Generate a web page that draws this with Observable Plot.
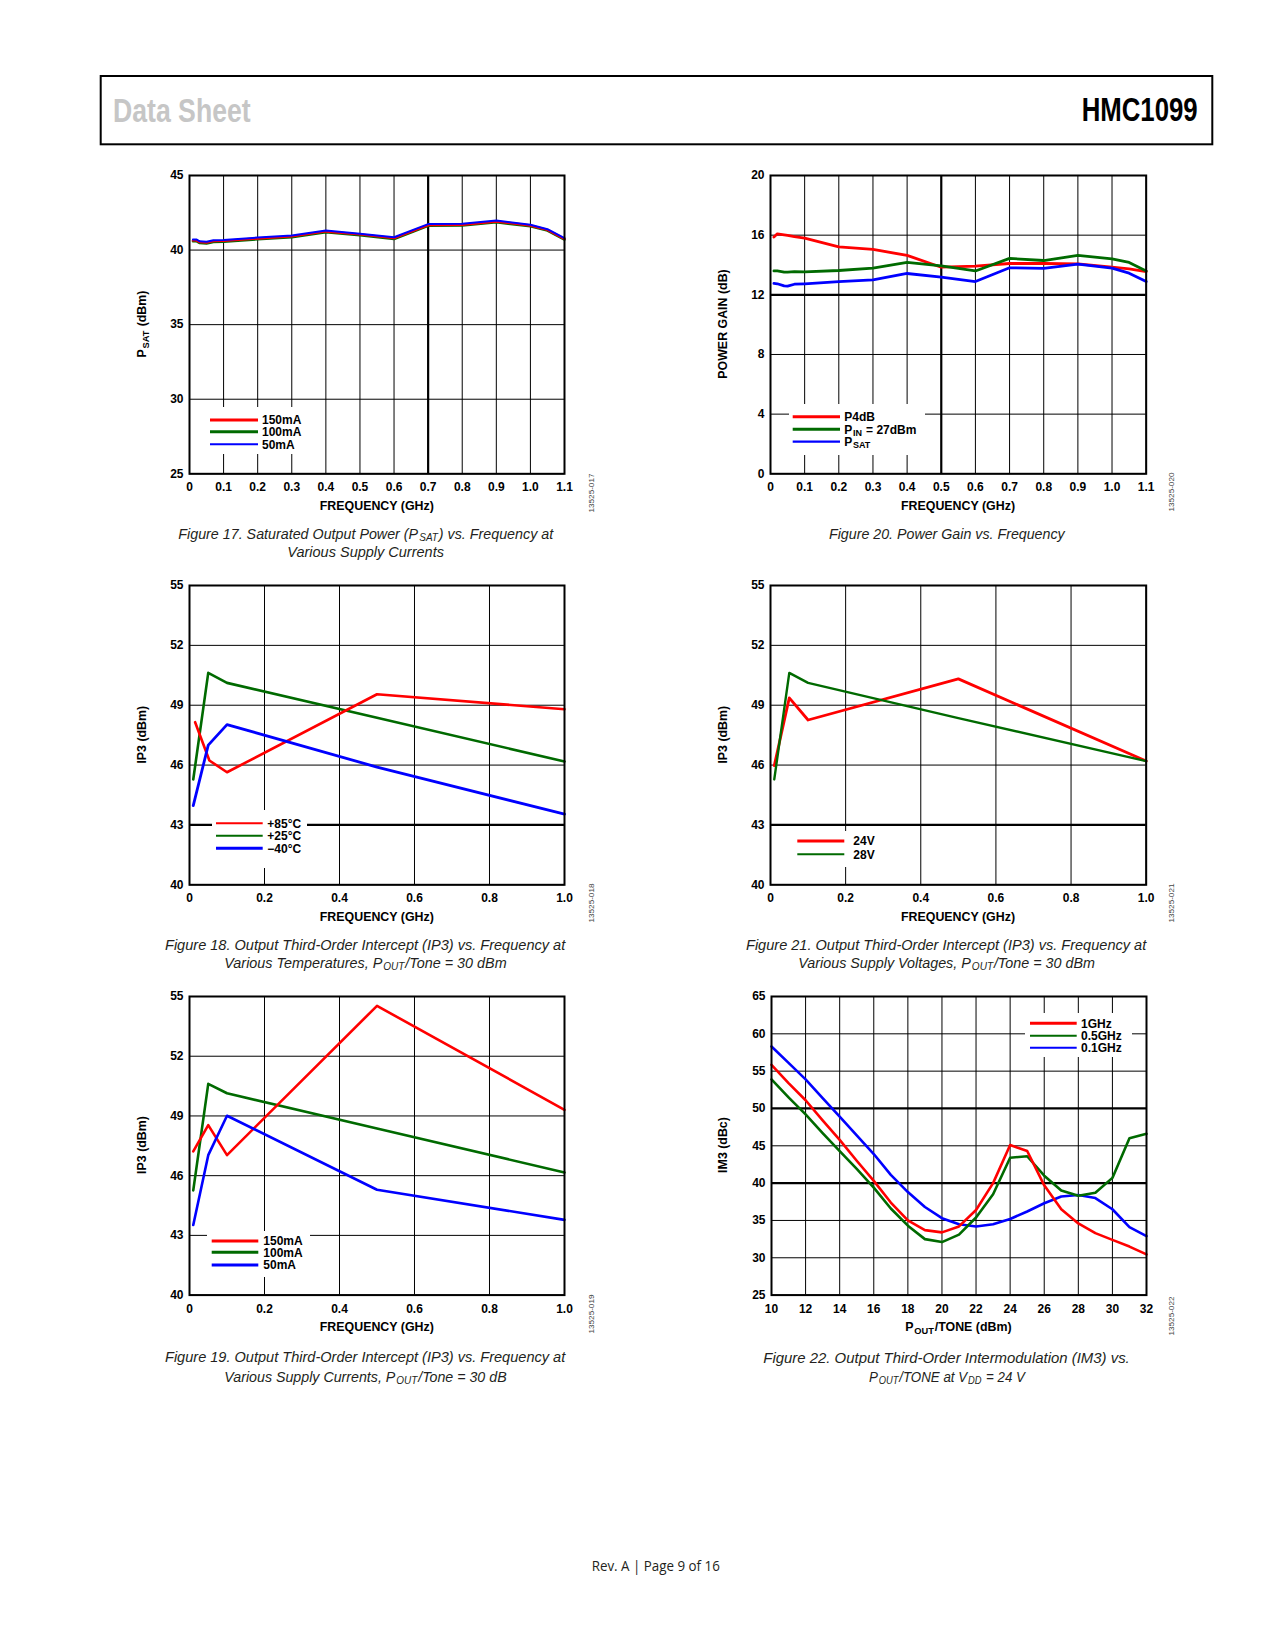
<!DOCTYPE html>
<html><head><meta charset="utf-8">
<script src="https://cdn.jsdelivr.net/npm/d3@7"></script>
<script src="https://cdn.jsdelivr.net/npm/@observablehq/plot@0.6"></script>
<style>
html,body{margin:0;padding:0;background:#fff;}
#page{position:relative;width:1275px;height:1650px;overflow:hidden;background:#fff;}
#page svg{position:absolute;}
#page text{white-space:pre;}
</style></head><body><div id="page"></div>
<script>
// ---------- DATA ----------
const RED = "#ff0000", GREEN = "#006a00", BLUE = "#0000ff";

// Figure 17: PSAT vs frequency
const f17Freq = [0.01,0.02,0.03,0.05,0.07,0.1,0.2,0.3,0.4,0.5,0.6,0.7,0.8,0.9,1.0,1.05,1.1];
const f17_150mA = [40.65,40.65,40.53,40.5,40.6,40.62,40.78,40.92,41.25,41.05,40.8,41.68,41.7,41.92,41.65,41.35,40.75];
const f17_100mA = [40.59,40.59,40.47,40.44,40.54,40.56,40.72,40.86,41.19,40.99,40.74,41.62,41.64,41.86,41.59,41.3,40.7];
const f17_50mA  = [40.71,40.71,40.59,40.56,40.66,40.68,40.84,40.98,41.31,41.1,40.86,41.74,41.76,41.98,41.7,41.4,40.8];

// Figure 20: power gain vs frequency
const f20Freq = [0.01,0.02,0.04,0.05,0.07,0.1,0.2,0.3,0.4,0.5,0.6,0.7,0.8,0.9,1.0,1.05,1.1];
const f20_P4dB = [15.87,16.09,16.02,15.98,15.9,15.8,15.22,15.04,14.64,13.85,13.92,14.1,14.1,14.08,13.85,13.74,13.56];
const f20_PIN27 = [13.6,13.6,13.52,13.52,13.56,13.54,13.63,13.79,14.17,13.94,13.6,14.44,14.3,14.64,14.41,14.17,13.6];
const f20_PSAT = [12.76,12.74,12.6,12.58,12.71,12.74,12.89,13.0,13.43,13.18,12.89,13.81,13.77,14.06,13.79,13.45,12.89];

// Figure 18: IP3 vs frequency at temperatures
const f18FreqHot = [0.015,0.053,0.1,0.5,1.0];
const f18Freq = [0.01,0.05,0.1,0.5,1.0];
const f18_85C = [48.15,46.23,45.64,49.55,48.8];
const f18_25C = [45.28,50.62,50.12,48.37,46.18];
const f18_m40C = [43.97,47.0,48.03,45.9,43.54];

// Figure 21: IP3 vs frequency at supply voltages
const f21Freq = [0.01,0.05,0.1,0.5,1.0];
const f21_24V = [45.97,49.37,48.26,50.32,46.2];
const f21_28V = [45.28,50.62,50.12,48.35,46.2];

// Figure 19: IP3 vs frequency at supply currents
const f19Freq = [0.01,0.05,0.1,0.5,1.0];
const f19_150mA = [47.22,48.54,47.03,54.53,49.31];
const f19_100mA = [45.26,50.61,50.14,48.37,46.16];
const f19_50mA = [43.52,47.03,49.01,45.29,43.78];

// Figure 22: IM3 vs POUT/TONE
const f22Pout = [10,11,12,13,14,15,16,17,18,19,20,21,22,23,24,25,26,27,28,29,30,31,32];
const f22_1GHz = [55.85,53.4,51.1,48.4,45.8,43.0,40.3,37.4,35.0,33.7,33.4,34.2,36.4,40.0,45.1,44.3,39.7,36.5,34.6,33.3,32.4,31.5,30.45];
const f22_05GHz = [53.9,51.5,49.2,46.7,44.3,41.9,39.4,36.6,34.3,32.5,32.1,33.1,35.4,38.5,43.4,43.6,41.0,39.0,38.3,38.7,40.7,46.0,46.6];
const f22_01GHz = [58.3,56.1,53.9,51.4,48.9,46.4,43.9,41.1,38.8,36.8,35.3,34.5,34.2,34.5,35.2,36.2,37.3,38.2,38.4,38.0,36.5,34.1,32.9];

// tick values
const freqTicks11 = [0,0.1,0.2,0.3,0.4,0.5,0.6,0.7,0.8,0.9,1.0,1.1];
const freqTicks10 = [0,0.2,0.4,0.6,0.8,1.0];
const psatTicks = [25,30,35,40,45];
const gainTicks = [0,4,8,12,16,20];
const ip3Ticks = [40,43,46,49,52,55];
const poutTicks = [10,12,14,16,18,20,22,24,26,28,30,32];
const im3Ticks = [25,30,35,40,45,50,55,60,65];

// ---------- DRAWING ----------
const SANS = "'Liberation Sans', Arial, Helvetica, sans-serif";
const CAPF = "'Liberation Sans', Arial, sans-serif";
const FOOTF = "'Open Sans', 'Noto Sans', 'Liberation Sans', sans-serif";
const page = document.getElementById("page");
const ML = 60, MR = 40, MT = 12, MB = 60;
const fmt1 = d => d === 0 ? "0" : d3.format(".1f")(d);

function toRows(xs, ys) { return xs.map((x, i) => ({x, y: ys[i]})); }

function chart(cfg) {
  const W = cfg.x1 - cfg.x0, H = cfg.y1 - cfg.y0;
  const thinX = cfg.xTicks.filter(v => !(cfg.xThick || []).includes(v));
  const thinY = cfg.yTicks.filter(v => !(cfg.yThick || []).includes(v));
  const marks = [
    Plot.ruleX(thinX, {stroke: "#000", strokeWidth: 1}),
    Plot.ruleY(thinY, {stroke: "#000", strokeWidth: 1}),
    Plot.ruleX(cfg.xThick || [], {stroke: "#000", strokeWidth: 2.2}),
    Plot.ruleY(cfg.yThick || [], {stroke: "#000", strokeWidth: 2.2}),
    ...cfg.series.map(s => Plot.line(toRows(s.x, s.y), {x: "x", y: "y", stroke: s.color, strokeWidth: s.w || 2.6, strokeLinejoin: "round"})),
    Plot.frame({stroke: "#000", strokeWidth: 2}),
    Plot.axisX(cfg.xTicks, {tickSize: 0, tickPadding: 9, tickFormat: cfg.xFmt, label: null}),
    Plot.axisY(cfg.yTicks, {tickSize: 0, tickPadding: 6, label: null})
  ];
  const svg = Plot.plot({
    width: W + ML + MR, height: H + MT + MB,
    marginLeft: ML, marginRight: MR, marginTop: MT, marginBottom: MB,
    x: {domain: cfg.xDomain}, y: {domain: cfg.yDomain},
    style: {fontFamily: SANS, fontSize: "12px", fontWeight: "bold", color: "#000", background: "transparent", overflow: "visible"},
    marks
  });
  svg.style.left = (cfg.x0 - ML) + "px";
  svg.style.top = (cfg.y0 - MT) + "px";
  page.appendChild(svg);
}

const L0 = 189.3, L1 = 564.3, R0 = 770.3, R1 = 1146;
const T1 = [175, 473.3], T2 = [585, 884.3], T3 = [995.7, 1294.3];

chart({x0: L0, x1: L1, y0: T1[0], y1: T1[1], xDomain: [0, 1.1], yDomain: [25, 45],
  xTicks: freqTicks11, yTicks: psatTicks, xThick: [0.7], xFmt: fmt1,
  series: [
    {x: f17Freq, y: f17_100mA, color: GREEN, w: 2.4},
    {x: f17Freq, y: f17_150mA, color: RED, w: 2.4},
    {x: f17Freq, y: f17_50mA, color: BLUE, w: 2}
  ]});
chart({x0: R0, x1: R1, y0: T1[0], y1: T1[1], xDomain: [0, 1.1], yDomain: [0, 20],
  xTicks: freqTicks11, yTicks: gainTicks, xThick: [0.5], yThick: [12], xFmt: fmt1,
  series: [
    {x: f20Freq, y: f20_P4dB, color: RED, w: 2.8},
    {x: f20Freq, y: f20_PIN27, color: GREEN, w: 2.8},
    {x: f20Freq, y: f20_PSAT, color: BLUE, w: 2.8}
  ]});
chart({x0: L0, x1: L1, y0: T2[0], y1: T2[1], xDomain: [0, 1], yDomain: [40, 55],
  xTicks: freqTicks10, yTicks: ip3Ticks, yThick: [43], xFmt: fmt1,
  series: [
    {x: f18Freq, y: f18_25C, color: GREEN, w: 2.6},
    {x: f18FreqHot, y: f18_85C, color: RED, w: 2.6},
    {x: f18Freq, y: f18_m40C, color: BLUE, w: 2.8}
  ]});
chart({x0: R0, x1: R1, y0: T2[0], y1: T2[1], xDomain: [0, 1], yDomain: [40, 55],
  xTicks: freqTicks10, yTicks: ip3Ticks, yThick: [43], xFmt: fmt1,
  series: [
    {x: f21Freq, y: f21_24V, color: RED, w: 2.8},
    {x: f21Freq, y: f21_28V, color: GREEN, w: 2.4}
  ]});
chart({x0: L0, x1: L1, y0: T3[0], y1: T3[1], xDomain: [0, 1], yDomain: [40, 55],
  xTicks: freqTicks10, yTicks: ip3Ticks, xFmt: fmt1,
  series: [
    {x: f19Freq, y: f19_100mA, color: GREEN, w: 2.6},
    {x: f19Freq, y: f19_150mA, color: RED, w: 2.6},
    {x: f19Freq, y: f19_50mA, color: BLUE, w: 2.6}
  ]});
chart({x0: 771, x1: R1, y0: T3[0], y1: T3[1], xDomain: [10, 32], yDomain: [25, 65],
  xTicks: poutTicks, yTicks: im3Ticks, yThick: [40, 50],
  series: [
    {x: f22Pout, y: f22_01GHz, color: BLUE, w: 2.6},
    {x: f22Pout, y: f22_05GHz, color: GREEN, w: 2.6},
    {x: f22Pout, y: f22_1GHz, color: RED, w: 2.6}
  ]});

// ---------- OVERLAY (texts, legends, header) ----------
const ov = d3.select(page).append("svg").attr("width", 1275).attr("height", 1650)
  .style("left", "0px").style("top", "0px");

// text made of plain and subscript pieces; each piece is its own <text>, laid out in sequence
function rich(x, y, parts, o = {}) {
  const size = o.size || 12;
  const subSize = size * (o.subScale || 0.75), sh = size * (o.subShift != null ? o.subShift : 0.27);
  let tf = `translate(${x},${y})`;
  if (o.rotate) tf += " rotate(-90)";
  const g = ov.append("g").attr("transform", tf);
  const inner = g.append("g");
  let cursor = 0, prevSub = null;
  for (const p of parts) {
    const isSub = typeof p === "object";
    if (prevSub !== null && prevSub !== isSub) cursor += size * 0.06;
    const t = inner.append("text").attr("x", cursor).attr("y", isSub ? sh : 0)
      .attr("xml:space", "preserve")
      .attr("font-family", o.family || SANS).attr("font-size", isSub ? subSize : size)
      .attr("font-weight", o.weight || "bold").attr("fill", o.fill || "#000")
      .text(isSub ? p.sub : p);
    if (o.italic) t.attr("font-style", "italic");
    cursor += t.node().getComputedTextLength();
    prevSub = isSub;
  }
  const sx = o.len ? o.len / cursor : 1;
  const off = o.anchor === "middle" ? -cursor * sx / 2 : 0;
  inner.attr("transform", `translate(${off},0) scale(${sx},1)`);
  return g;
}

// header
ov.append("rect").attr("x", 100.7).attr("y", 76).attr("width", 1111.6).attr("height", 68.3)
  .attr("fill", "none").attr("stroke", "#000").attr("stroke-width", 2);
rich(113, 122.3, ["Data Sheet"], {size: 34, fill: "#c6c6c6", len: 137.7});
rich(1081.7, 121.3, ["HMC1099"], {size: 34, fill: "#000", len: 116});

// axis titles
const xTitles = [
  [376.8, 510, ["FREQUENCY (GHz)"]], [958, 510, ["FREQUENCY (GHz)"]],
  [376.8, 920.7, ["FREQUENCY (GHz)"]], [958, 920.7, ["FREQUENCY (GHz)"]],
  [376.8, 1330.7, ["FREQUENCY (GHz)"]], [958.5, 1330.7, ["P", {sub: "OUT"}, "/TONE (dBm)"]]
];
xTitles.forEach(([x, y, p]) => rich(x, y, p, {size: 12.4, anchor: "middle"}));
const yTitles = [
  [146, 324, ["P", {sub: "SAT"}, " (dBm)"]], [727, 324, ["POWER GAIN (dB)"]],
  [146, 734.7, ["IP3 (dBm)"]], [726.5, 734.7, ["IP3 (dBm)"]],
  [146, 1145, ["IP3 (dBm)"]], [726.5, 1145, ["IM3 (dBc)"]]
];
yTitles.forEach(([x, y, p]) => rich(x, y, p, {size: 12.4, anchor: "middle", rotate: true}));

// figure ids
const ids = [[593.5, 493, "13525-017"], [1173.5, 492, "13525-020"], [593.5, 903, "13525-018"],
  [1174, 903, "13525-021"], [593.5, 1314, "13525-019"], [1173.5, 1316, "13525-022"]];
ids.forEach(([x, y, s]) => rich(x, y, [s], {size: 7.5, weight: "normal", fill: "#444", anchor: "middle", rotate: true, len: 39}));

// legends
function legend(box, lx0, lx1, tx, items) {
  ov.append("rect").attr("x", box[0]).attr("y", box[1]).attr("width", box[2] - box[0]).attr("height", box[3] - box[1]).attr("fill", "#fff");
  items.forEach(it => {
    ov.append("line").attr("x1", lx0).attr("x2", lx1).attr("y1", it.y).attr("y2", it.y)
      .attr("stroke", it.c).attr("stroke-width", it.w);
    rich(tx, it.y + 4.3, it.t, {size: 12, subShift: 0.2});
  });
}
legend([207, 407, 307, 454], 210, 258, 262, [
  {c: RED, w: 3, y: 420, t: ["150mA"]}, {c: GREEN, w: 3, y: 431.7, t: ["100mA"]}, {c: BLUE, w: 2, y: 444.3, t: ["50mA"]}]);
legend([789, 404, 925, 455], 792.7, 840, 844.3, [
  {c: RED, w: 3, y: 416.7, t: ["P4dB"]}, {c: GREEN, w: 3, y: 429.3, t: ["P", {sub: "IN"}, " = 27dBm"]}, {c: BLUE, w: 2.2, y: 441.7, t: ["P", {sub: "SAT"}]}]);
legend([212, 810, 307, 868], 216, 262.7, 267.3, [
  {c: RED, w: 2, y: 823.3, t: ["+85°C"]}, {c: GREEN, w: 2, y: 835.7, t: ["+25°C"]}, {c: BLUE, w: 3, y: 848.3, t: ["\u221240°C"]}]);
legend([793, 831, 880, 867], 797.3, 844.3, 853.3, [
  {c: RED, w: 3, y: 841, t: ["24V"]}, {c: GREEN, w: 2, y: 854.3, t: ["28V"]}]);
legend([207, 1231, 310, 1277], 211.7, 258.3, 263.3, [
  {c: RED, w: 3, y: 1241, t: ["150mA"]}, {c: GREEN, w: 3, y: 1252.3, t: ["100mA"]}, {c: BLUE, w: 3, y: 1265, t: ["50mA"]}]);
legend([1025, 1013, 1132, 1057], 1030, 1076.7, 1081, [
  {c: RED, w: 3, y: 1023.3, t: ["1GHz"]}, {c: GREEN, w: 2, y: 1035.7, t: ["0.5GHz"]}, {c: BLUE, w: 2, y: 1047.7, t: ["0.1GHz"]}]);

// captions
const CAP = {size: 15, weight: "normal", italic: true, family: CAPF, fill: "#231f20", subShift: 0.12, subScale: 0.7};
const caps = [
  [178.3, 539, ["Figure 17. Saturated Output Power (P", {sub: "SAT"}, ") vs. Frequency at"], 375],
  [287.3, 557, ["Various Supply Currents"], 156.7],
  [829, 538.5, ["Figure 20. Power Gain vs. Frequency"], 236],
  [165, 950, ["Figure 18. Output Third-Order Intercept (IP3) vs. Frequency at"], 400.7],
  [224.3, 967.7, ["Various Temperatures, P", {sub: "OUT"}, "/Tone = 30 dBm"], 282.4],
  [746, 950, ["Figure 21. Output Third-Order Intercept (IP3) vs. Frequency at"], 400.7],
  [798.3, 967.7, ["Various Supply Voltages, P", {sub: "OUT"}, "/Tone = 30 dBm"], 296.7],
  [165, 1362.3, ["Figure 19. Output Third-Order Intercept (IP3) vs. Frequency at"], 400.7],
  [224.3, 1381.7, ["Various Supply Currents, P", {sub: "OUT"}, "/Tone = 30 dB"], 282.4],
  [763.3, 1363.3, ["Figure 22. Output Third-Order Intermodulation (IM3) vs."], 366.7],
  [869, 1381.7, ["P", {sub: "OUT"}, "/TONE at V", {sub: "DD"}, " = 24 V"], 156]
];
caps.forEach(([x, y, p, len]) => rich(x, y, p, Object.assign({len}, CAP)));

// footer
rich(591.7, 1571, ["Rev. A | Page 9 of 16"], {size: 14, weight: "normal", family: FOOTF, fill: "#231f20", len: 128.3});
</script></body></html>
